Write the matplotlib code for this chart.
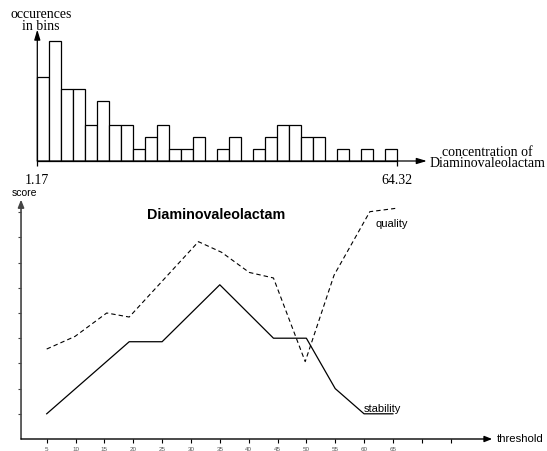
import numpy as np
import matplotlib
matplotlib.use('Agg')
from matplotlib import pyplot as plt

plt.rcParams['lines.scale_dashes'] = False

# histogram of concentrations
conc_min, conc_max = 1.17, 64.32
counts = [7, 10, 6, 6, 3, 5, 3, 3, 1, 2, 3, 1, 1, 2, 0,
          1, 2, 0, 1, 2, 3, 3, 2, 2, 0, 1, 0, 1, 0, 1]

# score curves
stab_x = [5, 19.3, 25, 35, 44.3, 50, 55, 60, 65]
stab_y = [1.0, 3.86, 3.86, 6.12, 4.0, 4.0, 2.0, 1.0, 1.0]
qual_x = [5, 9.9, 15.4, 19.3, 31.3, 35.3, 40.1, 44.3, 49.8, 54.8, 61.0, 65.4]
qual_y = [3.57, 4.07, 5.0, 4.84, 7.83, 7.41, 6.61, 6.39, 3.07, 6.5, 9.02, 9.15]
thr_ticks = list(range(5, 80, 5))
thr_labels = [str(t) if t <= 65 else '' for t in thr_ticks]
score_ticks = list(range(1, 10))

W, H = 547, 452
fig = plt.figure(figsize=(W / 100, H / 100), dpi=100)
serif = 'Liberation Serif'
sans = 'Liberation Sans'

# ---- top: histogram ----
sx = 360 / (conc_max - conc_min)   # px per unit
sy = 12.0                          # px per count
xr, yr = 70.5, 11.2
ax1 = fig.add_axes([37.3 / W, (H - 162) / H, (xr - conc_min) * sx / W, yr * sy / H])
edges = np.linspace(conc_min, conc_max, len(counts) + 1)
ax1.bar(edges[:-1], counts, width=np.diff(edges), align='edge',
        color='white', edgecolor='black', linewidth=0.9, clip_on=False)
ax1.set_xlim(conc_min, xr)
ax1.set_ylim(0, yr)
for s in ax1.spines.values():
    s.set_visible(False)
ax1.set_yticks([])
ax1.set_xticks([conc_min, conc_max])
ax1.set_xticklabels(['1.17', '64.32'], fontfamily=serif, fontsize=10)
ax1.tick_params(axis='x', direction='out', length=3.6, width=0.9, pad=5)
arrow = dict(arrowstyle='-|>,head_length=0.6,head_width=0.18', lw=0.9,
             color='black', shrinkA=0, shrinkB=0, mutation_scale=10)
ax1.annotate('', xy=(conc_min, 10.95), xytext=(conc_min, 0), arrowprops=arrow)
ax1.annotate('', xy=(69.5, 0), xytext=(conc_min, 0), arrowprops=arrow)

fig.text(41 / W, 1 - 20.5 / H, 'occurences\nin bins', family=serif, fontsize=10,
         ha='center', va='center', multialignment='center', linespacing=0.9)
fig.text(487 / W, 1 - 158 / H, 'concentration of\nDiaminovaleolactam',
         family=serif, fontsize=10, ha='center', va='center',
         multialignment='center', linespacing=0.85)

# ---- bottom: score vs threshold ----
px_x, px_y = 5.77, 25.2
x_lo, x_hi, y_hi = 0.55, 82.2, 9.5
ax2 = fig.add_axes([(17.85 + x_lo * px_x) / W, (H - 440) / H,
                    (x_hi - x_lo) * px_x / W, y_hi * px_y / H])
ax2.plot(stab_x, stab_y, color='black', lw=0.9)
ax2.plot(qual_x, qual_y, color='black', lw=0.8, linestyle=(0, (3.2, 2.2)))
ax2.set_xlim(x_lo, x_hi)
ax2.set_ylim(0, y_hi)
for s in ax2.spines.values():
    s.set_visible(False)
ax2.set_xticks(thr_ticks)
ax2.set_xticklabels(thr_labels, fontfamily=sans, fontsize=4.5, color='#555555')
ax2.set_yticks(score_ticks)
ax2.set_yticklabels([])
ax2.tick_params(axis='x', direction='out', length=2.8, width=0.8, pad=2.3,
                color='black')
ax2.tick_params(axis='y', direction='out', length=2.2, width=0.8, color='#444444')
arrow2 = dict(arrowstyle='-|>,head_length=0.5,head_width=0.2', lw=1.0,
              shrinkA=0, shrinkB=0, mutation_scale=9)
ax2.annotate('', xy=(x_lo, y_hi), xytext=(x_lo, 0),
             arrowprops=dict(arrow2, color='#444444', lw=1.2))
ax2.annotate('', xy=(x_hi, 0), xytext=(x_lo, 0),
             arrowprops=dict(arrow2, color='black'))

ax2.text(34.3, 8.93, 'Diaminovaleolactam', family=sans, fontsize=10.3,
         fontweight='bold', ha='center', va='center')
ax2.text(61.9, 8.57, 'quality', family=sans, fontsize=8, ha='left', va='center')
ax2.text(59.9, 1.23, 'stability', family=sans, fontsize=8, ha='left', va='center')
fig.text(24 / W, 1 - 193.5 / H, 'score', family=sans, fontsize=7.5,
         ha='center', va='center')
fig.text(496.5 / W, 1 - 439 / H, 'threshold', family=sans, fontsize=8.2,
         ha='left', va='center')

plt.savefig('out.png', dpi=100)
